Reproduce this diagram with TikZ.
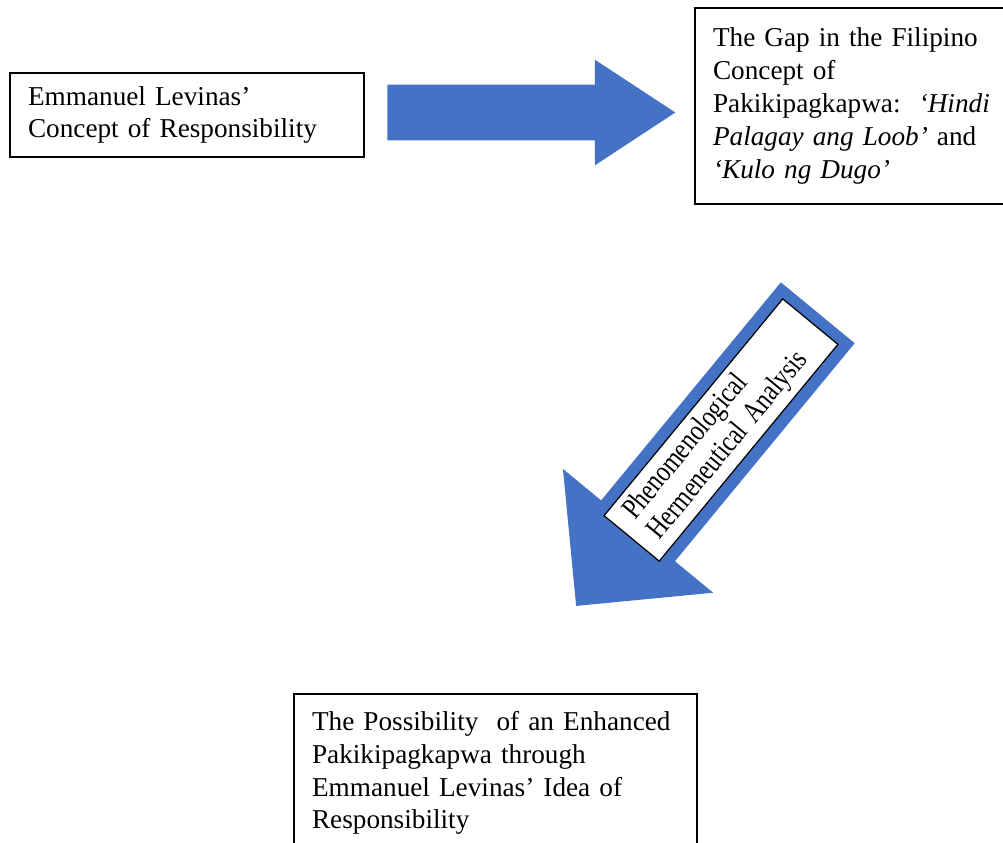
\documentclass[tikz,border=0pt]{standalone}
\usepackage{fontspec}
\setmainfont{Liberation Serif}
\newfontfamily\narrowserif[FakeStretch=0.8]{Liberation Serif}
\usetikzlibrary{positioning,shapes.arrows}

\definecolor{arrowblue}{HTML}{4472C4}

\tikzset{
  conceptbox/.style={draw, line width=0.8pt, fill=white, align=left,
    inner xsep=0.36cm, font=\fontsize{15.5}{18.7}\selectfont},
  blockarrow/.style={single arrow, fill=arrowblue, draw=none, inner xsep=0pt},
  methodbox/.style={draw, line width=0.7pt, fill=white, align=left,
    inner xsep=0.32cm, font=\narrowserif\fontsize{17}{18}\selectfont}
}

\begin{document}
\begin{tikzpicture}[x=0.02cm, y=-0.02cm]
  \useasboundingbox (0,0) rectangle (1003,842);
  % the three concept boxes (pixel grid, y downwards)
  \node[conceptbox, text width=6.36cm, minimum height=1.68cm] (levinas) at (187,115)
    {Emmanuel Levinas’\\Concept of Responsibility};
  \node[conceptbox, text width=5.68cm, minimum height=3.92cm] (gap) at (855,106)
    {The Gap in the Filipino\\Concept of\\Pakikipagkapwa:\ \ \textit{‘Hindi}\\
     \textit{Palagay ang Loob’} and\\\textit{‘Kulo ng Dugo’}};
  \node[conceptbox, text width=7.34cm, minimum height=3.16cm] (possibility) at (495.5,773)
    {The Possibility\ \ of an Enhanced\\Pakikipagkapwa through\\
     Emmanuel Levinas’ Idea of\\Responsibility};
  % block arrow: levinas -> gap
  \node[blockarrow, inner ysep=0.55cm, minimum height=5.76cm,
    single arrow head extend=0.5cm, single arrow tip angle=66.6, anchor=tail]
    (toGap) at (387,112.5) {};
  % block arrow: gap -> possibility, with the method written on it
  \node[blockarrow, rotate=230.5, inner ysep=0.95cm, minimum height=7.6cm,
    single arrow head extend=0.99cm, single arrow tip angle=90, anchor=tail]
    (toPossibility) at (818,312.5) {};
  \node[methodbox, rotate=50.5, minimum width=5.62cm, minimum height=1.43cm,
    text width=4.98cm] (method) at (721,430)
    {Phenomenological\\Hermeneutical Analysis};
\end{tikzpicture}
\end{document}
